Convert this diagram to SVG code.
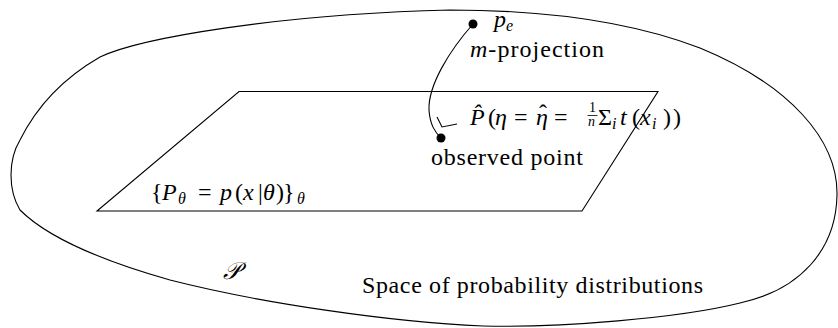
<svg xmlns="http://www.w3.org/2000/svg" width="838" height="328" viewBox="0 0 838 328">
<style>
.ln{fill:none;stroke:#000;stroke-width:1.1}
text{font-family:'Liberation Serif','Times New Roman',serif;font-size:24px;fill:#000}
.i{font-style:italic}
.s{font-size:16px}
.f{font-size:14px}
</style>
<rect width="838" height="328" fill="#fff"/>
<g id="space">
<path class="ln" d="M450,10 C560,10 640,25 700,48 C790,85 838,140 837,195 C836,250 800,290 740,303 C680,318 560,328 483,326 C390,322 260,303 170,280 C110,263 50,240 20,210 C8,190 8,160 20,140 C35,110 60,80 100,57 C140,38 280,14 450,10 Z"/>
<text class="i" x="223" y="279">𝒫</text>
<text x="362" y="293" textLength="341" lengthAdjust="spacing">Space of probability distributions</text>
</g>
<g id="manifold">
<path class="ln" d="M239,91.5 L658,91.5 L582,211 L97,211 Z"/>
<text><tspan x="151" y="200">{</tspan><tspan class="i" x="162">P</tspan><tspan class="i s" x="178" y="204">θ</tspan><tspan x="198" y="200">=</tspan><tspan class="i" x="220">p</tspan><tspan x="235">(</tspan><tspan class="i" x="243">x</tspan><tspan x="258">|</tspan><tspan class="i" x="263">θ</tspan><tspan x="276">)</tspan><tspan x="283">}</tspan><tspan class="i s" x="297" y="204">θ</tspan></text>
</g>
<g id="pe">
<circle cx="473" cy="24" r="4.5"/>
<text><tspan class="i" x="494" y="27">p</tspan><tspan class="i s" x="506" y="31">e</tspan></text>
<text x="470" y="57" textLength="134" lengthAdjust="spacing"><tspan class="i">m</tspan>-projection</text>
</g>
<g id="observed">
<circle cx="441" cy="138" r="4.5"/>
<text x="431" y="165" textLength="152" lengthAdjust="spacing">observed point</text>
<text><tspan class="i" x="470" y="125">P̂</tspan><tspan x="488">(</tspan><tspan class="i" x="495">η</tspan><tspan x="514">=</tspan><tspan class="i" x="536">η</tspan><tspan x="539" y="121">ˆ</tspan><tspan x="554" y="125">=</tspan><tspan class="f" x="589" y="112">1</tspan><tspan class="i f" x="588" y="126">n</tspan><tspan x="598" y="125">Σ</tspan><tspan class="i s" x="612" y="129">i</tspan><tspan class="i" x="620" y="125">t</tspan><tspan x="632">(</tspan><tspan class="i" x="640">x</tspan><tspan class="i s" x="652" y="129">i</tspan><tspan x="663" y="125">)</tspan><tspan x="673">)</tspan></text>
<line x1="587.5" y1="115.5" x2="597.5" y2="115.5" stroke="#000" stroke-width="0.8"/>
</g>
<g id="connectors">
<path class="ln" d="M473,24 C450,50 428,85 429,110 C430,125 435,132 441,138"/>
<polyline class="ln" points="437,117 442,127 457,124"/>
</g>
</svg>
